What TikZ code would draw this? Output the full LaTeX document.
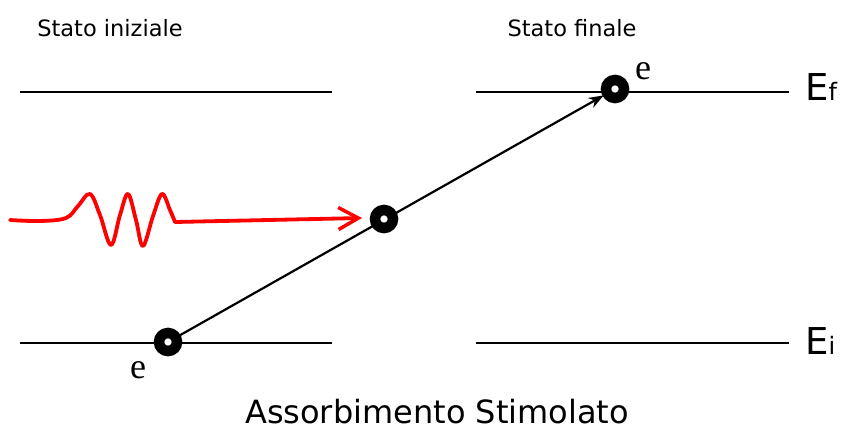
\documentclass[tikz,border=0pt]{standalone}
\usepackage{fontspec}
\setmainfont{DejaVu Sans}
\newfontfamily\serifel{Liberation Serif}
\usetikzlibrary{arrows.meta}
\begin{document}
\begin{tikzpicture}[x=1pt,y=-1pt,
  level/.style={line width=1.6pt},
  electron/.style={circle,draw=black,fill=white,line width=10.5pt,minimum size=18pt,inner sep=0pt},
  elabel/.style={font=\serifel\fontsize{36}{36}\selectfont,inner sep=0pt},
  state/.style={font=\fontsize{22.5}{22.5}\selectfont,inner sep=0pt},
  elevel/.style={font=\fontsize{37}{37}\selectfont,inner sep=0pt,anchor=west},
  wave/.style={red,line width=3.8pt,line cap=round,line join=round}]
\useasboundingbox (0,0) rectangle (864,433);
% levels
\draw[level] (20,92) -- (332,92);
\draw[level] (476,92) -- (789,92);
\draw[level] (20,343) -- (332,343);
\draw[level] (476,343) -- (789,343);
% texts
\node[state] (si) at (110,28) {Stato iniziale};
\node[state] (sf) at (572,28) {Stato finale};
\node[elevel] (ef) at (805,87) {E{\fontsize{24}{24}\selectfont f}};
\node[elevel] (ei) at (805,341) {E{\fontsize{24}{24}\selectfont i}};
\node[font=\fontsize{32}{32}\selectfont,inner sep=0pt] (title) at (437,412) {Assorbimento Stimolato};
% electrons positions
\coordinate (p1) at (168,342);
\coordinate (p2) at (384,219);
\coordinate (p3) at (615,89);
\draw[line width=2.2pt,-{Stealth[length=15pt,width=11pt]},shorten >=13pt] (p1) -- (p3);
\node[electron] (e1) at (p1) {};
\node[electron] (e2) at (p2) {};
\node[electron] (e3) at (p3) {};
\node[elabel] (l1) at (138,370) {e};
\node[elabel] (l3) at (643,71) {e};
% photon
\coordinate (w0) at (175,222);
\draw[wave] plot[smooth,tension=0.6] coordinates {(10,220) (40,221) (66,218) (78,206) (90,194) (100,215) (111,245) (120,215) (128,194) (136,220) (143,246) (153,216) (162,194) (170,210) (175,222)};
\draw[wave,-{Straight Barb[length=20pt,width=22pt,line width=3.5pt]}] (w0) -- (362,218);
\end{tikzpicture}
\end{document}
